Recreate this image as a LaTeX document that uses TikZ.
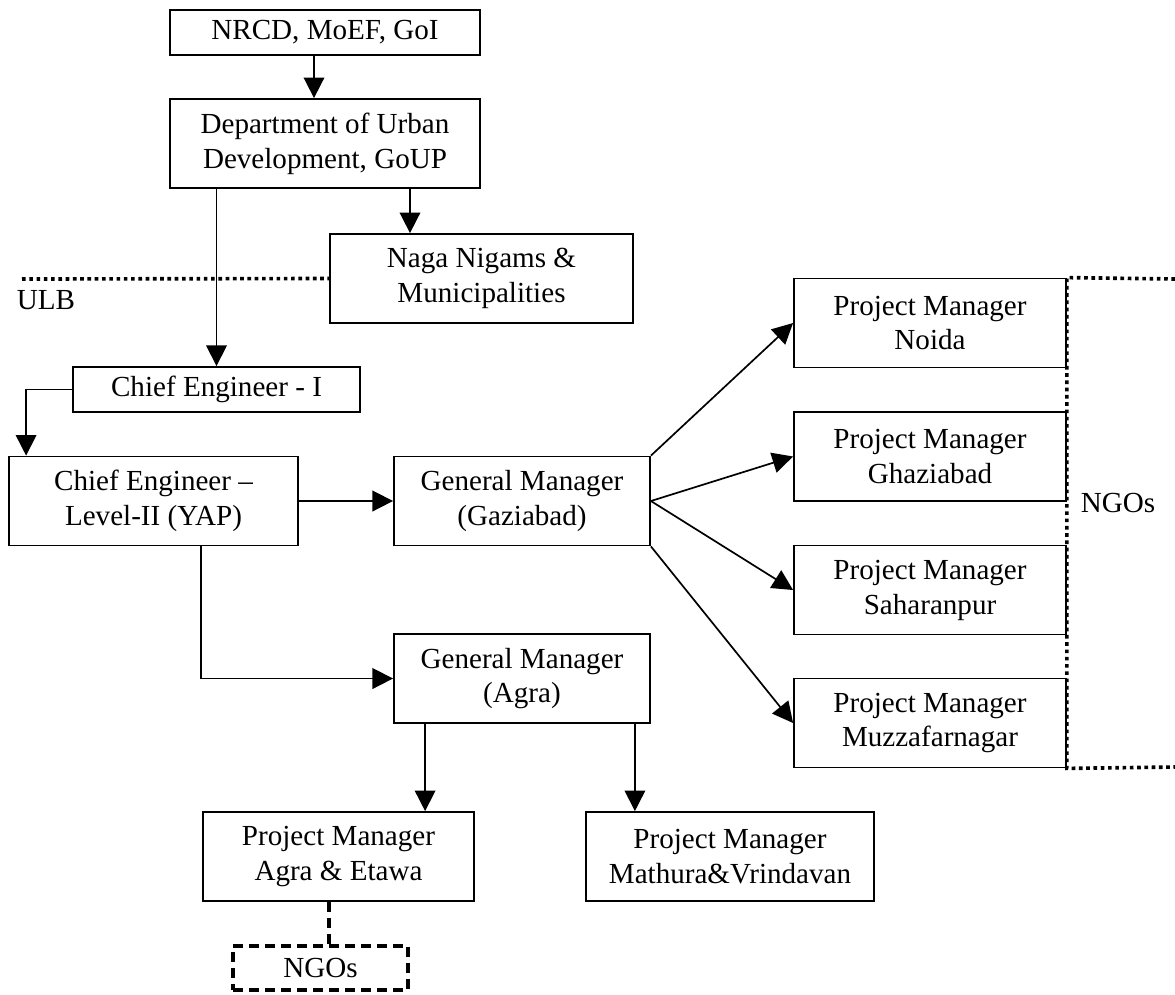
\documentclass[tikz,border=0pt]{standalone}
\usepackage{fontspec}
\setmainfont{Liberation Serif}
\usetikzlibrary{arrows.meta, positioning, calc}

\begin{document}
\begin{tikzpicture}[
    x=0.4125pt, y=-0.4125pt,
    every node/.style={font=\fontsize{12}{14.4}\selectfont},
    box/.style={rectangle, draw, line width=0.75pt, align=center, inner sep=0pt,
                minimum height=36.7pt, minimum width=#1*0.4125pt},
    sbox/.style={box=#1, minimum height=18.6pt},
    ngobox/.style={box=#1, minimum height=18.2pt, line width=1.4pt,
                   dash pattern=on 4pt off 2.6pt},
    arr/.style={-{Triangle[length=8.5pt, width=8.5pt]}, line width=0.7pt},
    dotl/.style={line width=1.5pt, dash pattern=on 1.5pt off 1.5pt},
    dashl/.style={line width=1.4pt, dash pattern=on 4pt off 2.6pt},
  ]
    \useasboundingbox (0,0) rectangle (1175,994);
    \node[sbox=310] (nrcd) at (325,32.5) {NRCD, MoEF, GoI};
    \node[box=310] (dud) at (325,143.5) {Department of Urban\\Development, GoUP};
    \node[box=303] (naga) at (481.5,278.5) {Naga Nigams \&\\Municipalities};
    \node[sbox=287] (ce1) at (216.5,389.5) {Chief Engineer - I};
    \node[box=289] (ce2) at (153.5,501) {Chief Engineer --\\Level-II (YAP)};
    \node[box=256] (gmg) at (522,501) {General Manager\\(Gaziabad)};
    \node[box=256] (gma) at (522,678.5) {General Manager\\(Agra)};
    \node[box=271] (pmag) at (338.5,856.5) {Project Manager\\Agra \& Etawa};
    \node[box=288] (pmmv) at (730,856.5) {Project Manager\\Mathura\&Vrindavan};
    \node[ngobox=175] (ngoa) at (320.5,968) {NGOs};
    \def\xR{930}
    \foreach \k/\y/\t in {noida/323/Noida, ghaz/456.5/Ghaziabad,
                          saha/590/Saharanpur, muzz/723/Muzzafarnagar}{
      \node[box=272] (\k) at (\xR,\y) {Project Manager\\\t};}
    \node (ngor) at (1118,503) {NGOs};
    \node (ulb) at (46,300) {ULB};
    % vertical chain
    \draw[arr] ($(nrcd.south)+(-11,0)$) -- ($(dud.north)+(-11,0)$);
    \draw[arr] (dud.south -| ce1.north) -- (ce1.north);
    \coordinate (dn) at ($(dud.south)+(85,0)$);
    \draw[arr] (dn) -- (dn |- naga.north);
    \draw[arr] (ce1.west) -| ($(ce2.north west)+(18,0)$);
    \draw[arr] (ce2) -- (gmg);
    \coordinate (c2) at ($(ce2.south west)+(193,0)$);
    \draw[arr] (c2) |- (gma.west);
    \coordinate (ga1) at ($(gma.south west)+(32,0)$);
    \coordinate (ga2) at ($(gma.south east)+(-16,0)$);
    \draw[arr] (ga1) -- (ga1 |- pmag.north);
    \draw[arr] (ga2) -- (ga2 |- pmmv.north);
    % fan out to project managers
    \draw[arr] (gmg.north east) -- (noida.west);
    \draw[arr] (gmg.east) -- (ghaz.west);
    \draw[arr] (gmg.east) -- (saha.west);
    \draw[arr] (gmg.south east) -- (muzz.west);
    \coordinate (pa) at ($(pmag.south west)+(127,0)$);
    \draw[dashl] (pa) -- (pa |- ngoa.north);
    % ULB and NGO borders
    \coordinate (ulbend) at (22,279);
    \draw[dotl] (ulbend) -- (naga.west);
    \coordinate (rt) at (1175,279);
    \coordinate (rb) at (1175,767);
    \draw[dotl] (rt) -- (noida.north east) -- (muzz.south east) -- (rb);
  \end{tikzpicture}
\end{document}
